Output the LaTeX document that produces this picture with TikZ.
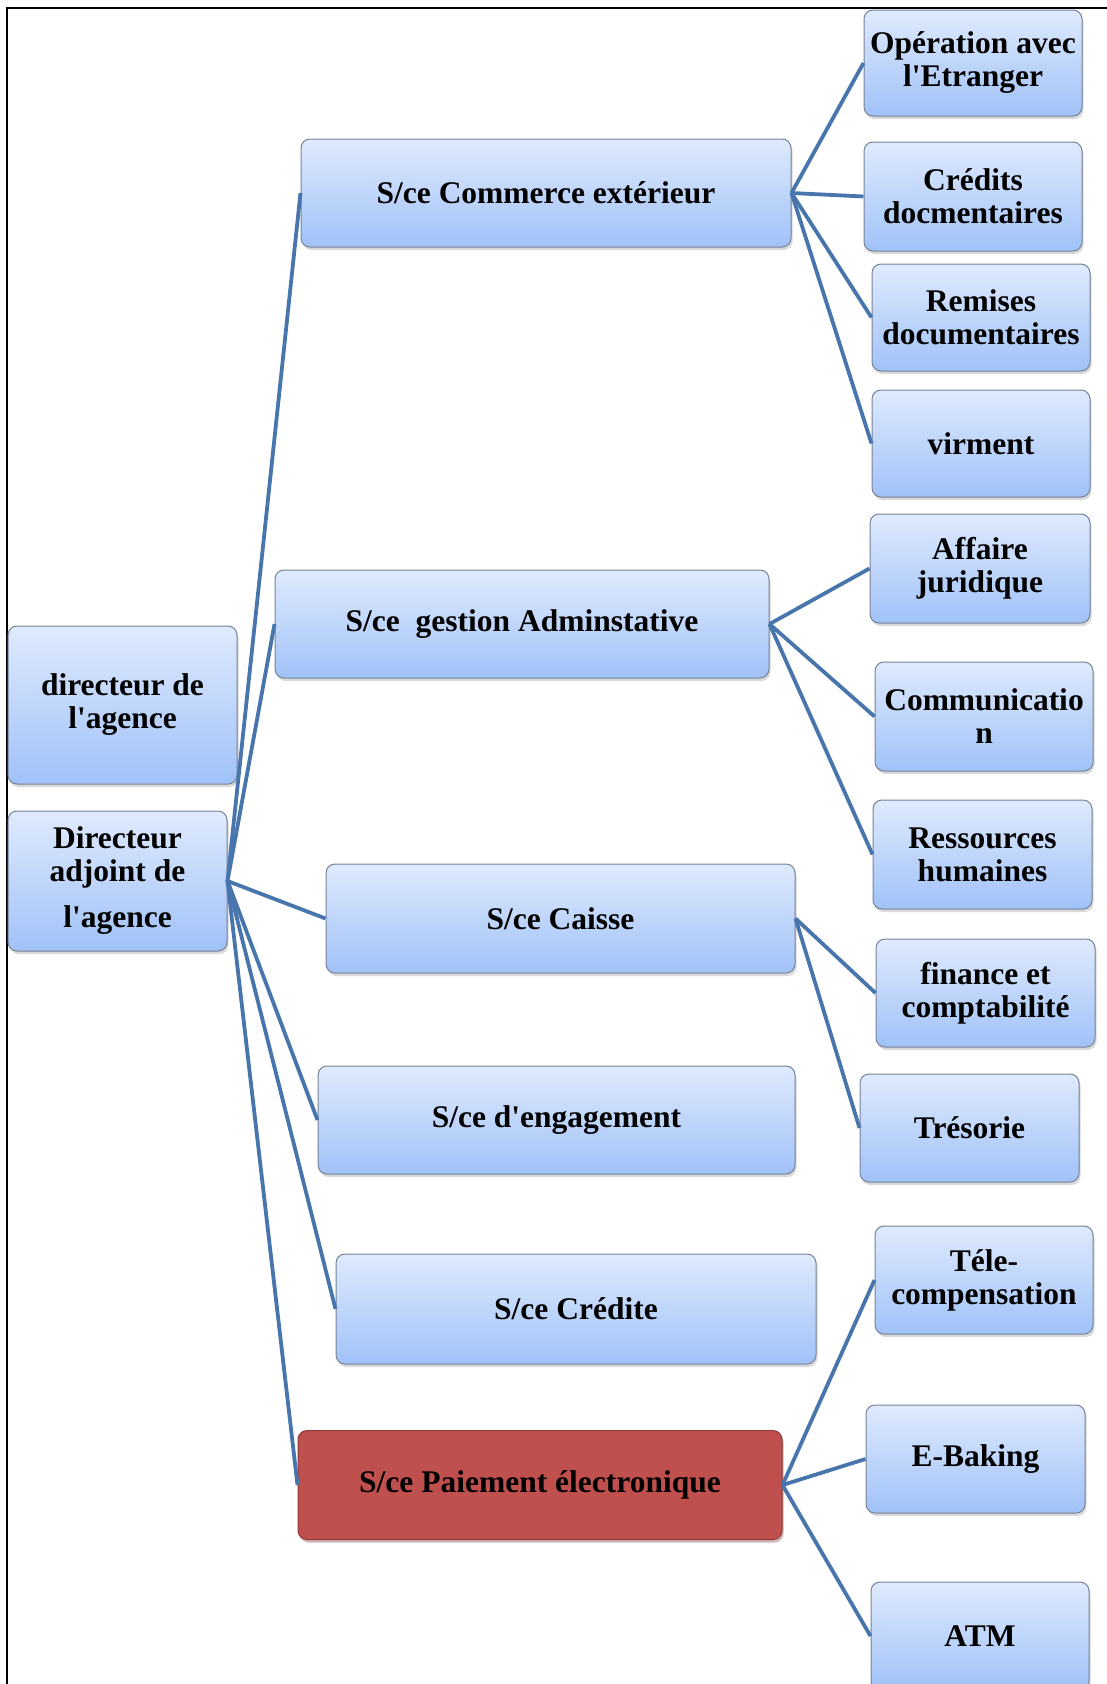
\documentclass[tikz,border=0pt]{standalone}
\usepackage{fontspec}
\setmainfont{Liberation Serif}
\usetikzlibrary{shadows}
\definecolor{boxtop}{RGB}{223,234,253}
\definecolor{boxbot}{RGB}{160,194,248}
\definecolor{boxline}{RGB}{118,130,150}
\definecolor{redfill}{RGB}{192,80,77}
\definecolor{redline}{RGB}{140,56,54}
\definecolor{link}{RGB}{72,118,172}
\newcommand{\apo}{\textquotesingle}
\tikzset{
  orgbox/.style={draw=boxline, line width=1, rounded corners=9, top color=boxtop, bottom color=boxbot,
    align=center, inner sep=0pt, font=\fontsize{31.5}{33}\selectfont\bfseries,
    drop shadow={opacity=0.3, shadow xshift=1.5pt, shadow yshift=-3pt}},
  redbox/.style={orgbox, top color=redfill, bottom color=redfill, draw=redline,
    drop shadow={opacity=0.25, fill=redfill, shadow xshift=1.5pt, shadow yshift=-3pt}},
  link/.style={draw=link, line width=3.8}
}
\begin{document}
\begin{tikzpicture}[x=1pt,y=-1pt]
\useasboundingbox (0,0) rectangle (1107,1684);
\begin{scope}
\clip (0,0) rectangle (1107,1684);
% frame
\draw[line width=2.5] (7,1690) -- (7,8) -- (1110,8);
% left column
\node[orgbox, minimum width=229, minimum height=158] (d1) at (122.5,705) {directeur de\\l\apo agence};
\node[orgbox, minimum width=219, minimum height=140] (d2) at (117.5,881) {Directeur\\adjoint de\\[13pt]l\apo agence};
% middle column
\node[orgbox, minimum width=490, minimum height=108] (m1) at (546,193) {S/ce Commerce extérieur};
\node[orgbox, minimum width=494, minimum height=108] (m2) at (522,624) {S/ce\ \ gestion Adminstative};
\node[orgbox, minimum width=469, minimum height=109] (m3) at (560.5,918.5) {S/ce Caisse};
\node[orgbox, minimum width=477, minimum height=108] (m4) at (556.5,1120) {S/ce d\apo engagement};
\node[orgbox, minimum width=480, minimum height=110] (m5) at (576,1309) {S/ce Crédite};
\node[redbox, minimum width=484, minimum height=109] (m6) at (540,1485) {S/ce Paiement électronique};
% right column
\node[orgbox, minimum width=218, minimum height=106] (r1) at (973,63) {Opération avec\\l\apo Etranger};
\node[orgbox, minimum width=218, minimum height=109] (r2) at (973,196.5) {Crédits\\docmentaires};
\node[orgbox, minimum width=218, minimum height=107] (r3) at (981,317.5) {Remises\\documentaires};
\node[orgbox, minimum width=218, minimum height=107] (r4) at (981,443.5) {virment};
\node[orgbox, minimum width=220, minimum height=109] (r5) at (980,568.5) {Affaire\\juridique};
\node[orgbox, minimum width=218, minimum height=109] (r6) at (984,716.5) {Communicatio\\n};
\node[orgbox, minimum width=219, minimum height=109] (r7) at (982.5,854.5) {Ressources\\humaines};
\node[orgbox, minimum width=219, minimum height=108] (r8) at (985.5,993) {finance et\\comptabilité};
\node[orgbox, minimum width=219, minimum height=108] (r9) at (969.5,1128) {Trésorie};
\node[orgbox, minimum width=218, minimum height=108] (r10) at (984,1280) {Téle-\\compensation};
\node[orgbox, minimum width=219, minimum height=108] (r11) at (975.5,1459) {E-Baking};
\node[orgbox, minimum width=218, minimum height=108] (r12) at (980,1636) {ATM};
% connectors
\foreach \m in {m1,m2,m3,m4,m5,m6} \draw[link] (d2.east) -- (\m.west);
\foreach \r in {r1,r2,r3,r4} \draw[link] (m1.east) -- (\r.west);
\foreach \r in {r5,r6,r7} \draw[link] (m2.east) -- (\r.west);
\foreach \r in {r8,r9} \draw[link] (m3.east) -- (\r.west);
\foreach \r in {r10,r11,r12} \draw[link] (m6.east) -- (\r.west);
\end{scope}
\end{tikzpicture}
\end{document}
